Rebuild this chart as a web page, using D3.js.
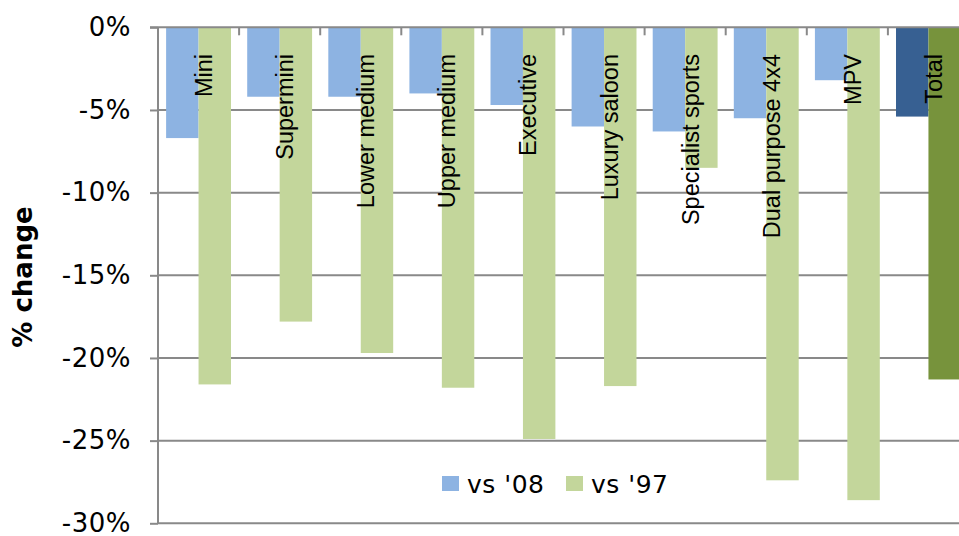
<!DOCTYPE html>
<html>
<head>
<meta charset="utf-8">
<script src="https://cdn.jsdelivr.net/npm/d3@7"></script>
<style>
  html, body { margin: 0; padding: 0; background: #fff; }
  svg { display: block; }
</style>
</head>
<body>
<svg id="chart" width="959" height="536"></svg>
<script>
// Car segment sales, % change
const categories = ["Mini", "Supermini", "Lower medium", "Upper medium", "Executive",
  "Luxury saloon", "Specialist sports", "Dual purpose 4x4", "MPV", "Total"];
const seriesNames = ["vs '08", "vs '97"];
const vs08 = [-6.7, -4.2, -4.2, -4.0, -4.7, -6.0, -6.3, -5.5, -3.2, -5.4];
const vs97 = [-21.6, -17.8, -19.7, -21.8, -24.9, -21.7, -8.5, -27.4, -28.6, -21.3];
const yTicks = [0, -5, -10, -15, -20, -25, -30];
const seriesColors = ["#8DB3E2", "#C3D69B"];
const totalColors = ["#376092", "#77933C"];

(function draw() {
  const svg = d3.select("#chart");
  const plotLeft = 158, plotRight = 969, plotTop = 27.3, plotBottom = 523.3;
  const gridColor = "#898989";

  const x = d3.scaleBand().domain(categories).range([plotLeft, plotRight])
    .paddingInner(0.2).paddingOuter(0.1);
  const xs = d3.scaleBand().domain(seriesNames).range([0, x.bandwidth()]);
  const y = d3.scaleLinear().domain([-30, 0]).range([plotBottom, plotTop]);

  // horizontal gridlines
  svg.append("g").selectAll("line").data(yTicks.filter(d => d !== 0)).join("line")
    .attr("x1", plotLeft).attr("x2", plotRight)
    .attr("y1", d => y(d)).attr("y2", d => y(d))
    .attr("stroke", gridColor).attr("stroke-width", 2);

  // bars
  const rows = categories.map((c, i) => ({ cat: c, vals: [vs08[i], vs97[i]] }));
  const groups = svg.append("g").selectAll("g").data(rows).join("g")
    .attr("transform", d => `translate(${x(d.cat)},0)`);
  groups.selectAll("rect")
    .data(d => d.vals.map((v, j) => ({ cat: d.cat, s: seriesNames[j], j, v })))
    .join("rect")
    .attr("x", d => xs(d.s))
    .attr("width", xs.bandwidth())
    .attr("y", y(0))
    .attr("height", d => y(d.v) - y(0))
    .attr("fill", d => d.cat === "Total" ? totalColors[d.j] : seriesColors[d.j]);

  // value axis (left)
  const yAxis = svg.append("g").attr("transform", `translate(${plotLeft},0)`)
    .call(d3.axisLeft(y).tickValues(yTicks).tickSize(8).tickPadding(19)
      .tickFormat(d => d + "%"));
  yAxis.select(".domain").attr("stroke", gridColor).attr("stroke-width", 2)
    .attr("d", `M0,${plotTop}V${plotBottom}`);
  yAxis.selectAll(".tick line").attr("stroke", gridColor).attr("stroke-width", 2);
  yAxis.selectAll(".tick text")
    .attr("font-family", "'DejaVu Sans', Verdana, sans-serif")
    .attr("font-size", 26).attr("letter-spacing", 0.5)
    .attr("fill", "#000");

  // category axis along 0%
  const xAxisG = svg.append("g");
  xAxisG.append("line").attr("x1", plotLeft - 8).attr("x2", plotRight)
    .attr("y1", y(0)).attr("y2", y(0))
    .attr("stroke", gridColor).attr("stroke-width", 2);
  xAxisG.selectAll("line.tk").data(categories.slice(1)).join("line")
    .attr("class", "tk")
    .attr("x1", d => x(d) - x.step() * x.paddingInner() / 2)
    .attr("x2", d => x(d) - x.step() * x.paddingInner() / 2)
    .attr("y1", y(0)).attr("y2", y(0) + 8)
    .attr("stroke", gridColor).attr("stroke-width", 2);

  // rotated category labels
  svg.append("g").selectAll("text").data(categories).join("text")
    .attr("transform", d => `translate(${x(d) + x.bandwidth() / 2 + 13.5},54) rotate(-90)`)
    .attr("text-anchor", "end")
    .attr("font-family", "'Liberation Sans', Arial, sans-serif")
    .attr("font-size", 23.5)
    .attr("fill", "#000")
    .text(d => d);

  // axis title
  svg.append("text")
    .attr("transform", "translate(32,277) rotate(-90)")
    .attr("text-anchor", "middle")
    .attr("font-family", "'DejaVu Sans', Verdana, sans-serif")
    .attr("font-weight", "bold")
    .attr("font-size", 26)
    .attr("fill", "#000")
    .text("% change");

  // legend
  const legendX = [442, 566];
  const legend = svg.append("g").selectAll("g").data(seriesNames).join("g")
    .attr("transform", (d, i) => `translate(${legendX[i]},476)`);
  legend.append("rect").attr("width", 17).attr("height", 15)
    .attr("fill", (d, i) => seriesColors[i]);
  legend.append("text").attr("x", 25).attr("y", 8)
    .attr("dominant-baseline", "central")
    .attr("font-family", "'DejaVu Sans', Verdana, sans-serif")
    .attr("font-size", 25).attr("letter-spacing", 0.5)
    .attr("fill", "#000")
    .text(d => d);
})();
</script>
</body>
</html>
